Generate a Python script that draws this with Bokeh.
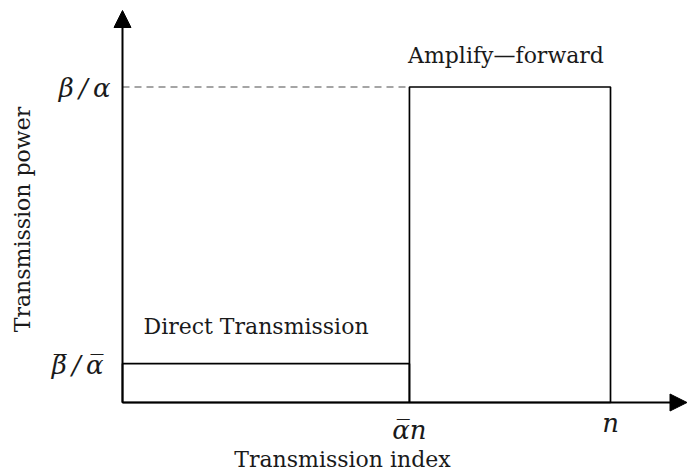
from bokeh.plotting import figure
from bokeh.models import Range1d, Label, Arrow, NormalHead
from bokeh.embed import file_html
from bokeh.resources import INLINE
import math

# ---- data (x in units of n, y in units of beta/alpha) ----
x_edges = [0.0, 0.588, 1.0]          # 0, alpha-bar*n, n
levels = [0.123, 1.0]                # beta-bar/alpha-bar, beta/alpha
x_tick_labels = ["\u03b1\u0305n", "n"]
y_tick_labels = ["\u03b2\u0305\u2009/\u2009\u03b1\u0305", "\u03b2\u2009/\u2009\u03b1"]
region_labels = ["Direct Transmission", "Amplify\u2014forward"]
x_title = "Transmission index"
y_title = "Transmission power"

W, H = 687, 472
x0_px, xscale = 122, 488.0
y0_px, yscale = 70, 315.5
xr = Range1d(-x0_px / xscale, (W - x0_px) / xscale)
yr = Range1d(-y0_px / yscale, (H - y0_px) / yscale)

p = figure(width=W, height=H, x_range=xr, y_range=yr, output_backend="svg",
           toolbar_location=None, min_border=0)
p.axis.visible = False
p.grid.visible = False
p.outline_line_color = None
p.background_fill_color = "white"
p.border_fill_color = "white"

FONT = "DejaVu Serif"
FS = "22px"
MFS = "26px"
TC = "#1a1a1a"

# dashed reference line at beta/alpha
p.line(x=[x_edges[0], x_edges[1]], y=[levels[1], levels[1]], line_color="#888888",
       line_width=1.3, line_dash="7 5")

# bars (rectangles)
p.quad(left=x_edges[:-1], right=x_edges[1:], bottom=[0, 0], top=levels,
       fill_color=None, line_color="black", line_width=1.7)

# axes with arrows
x_tip = xr.end - 0.5 / xscale
y_tip = yr.end - 10 / yscale
p.add_layout(Arrow(x_start=0, y_start=0, x_end=x_tip, y_end=0, line_width=2,
                   line_color="black",
                   end=NormalHead(size=17, fill_color="black", line_color="black")))
p.add_layout(Arrow(x_start=0, y_start=0, x_end=0, y_end=y_tip, line_width=2,
                   line_color="black",
                   end=NormalHead(size=17, fill_color="black", line_color="black")))

# tick labels on x axis
p.add_layout(Label(x=x_edges[1], y=0, text=x_tick_labels[0], text_font=FONT,
                   text_font_style="italic", text_font_size=MFS, text_color=TC,
                   text_align="center", text_baseline="alphabetic", y_offset=-27))
p.add_layout(Label(x=x_edges[2], y=0, text=x_tick_labels[1], text_font=FONT,
                   text_font_style="italic", text_font_size=MFS, text_color=TC,
                   text_align="center", text_baseline="alphabetic", y_offset=-20))

# tick labels on y axis
p.add_layout(Label(x=0, y=levels[0], text=y_tick_labels[0], text_font=FONT,
                   text_font_style="italic", text_font_size=MFS, text_color=TC,
                   text_align="right", text_baseline="middle", x_offset=-19, y_offset=-1))
p.add_layout(Label(x=0, y=levels[1], text=y_tick_labels[1], text_font=FONT,
                   text_font_style="italic", text_font_size=MFS, text_color=TC,
                   text_align="right", text_baseline="middle", x_offset=-12, y_offset=-1))

# region labels
p.add_layout(Label(x=x_edges[0], y=levels[0], text=region_labels[0], text_font=FONT,
                   text_font_size=FS, text_color=TC, text_align="left",
                   text_baseline="alphabetic", x_offset=21, y_offset=37))
p.add_layout(Label(x=(x_edges[1] + x_edges[2]) / 2, y=levels[1], text=region_labels[1],
                   text_font=FONT, text_font_size=FS, text_color=TC, text_align="center",
                   text_baseline="alphabetic", x_offset=-4, y_offset=32))

# axis titles
p.add_layout(Label(x=(x_edges[0] + x_edges[2]) / 2, y=0, text=x_title, text_font=FONT,
                   text_font_size=FS, text_color=TC, text_align="center",
                   text_baseline="alphabetic", x_offset=-24, y_offset=-57))
p.add_layout(Label(x=0, y=y_tip / 2, text=y_title, text_font=FONT,
                   text_font_size=FS, text_color=TC, text_align="center",
                   text_baseline="middle", angle=math.pi / 2, x_offset=-100, y_offset=-13))

open("out.html", "w").write(file_html(p, INLINE))
